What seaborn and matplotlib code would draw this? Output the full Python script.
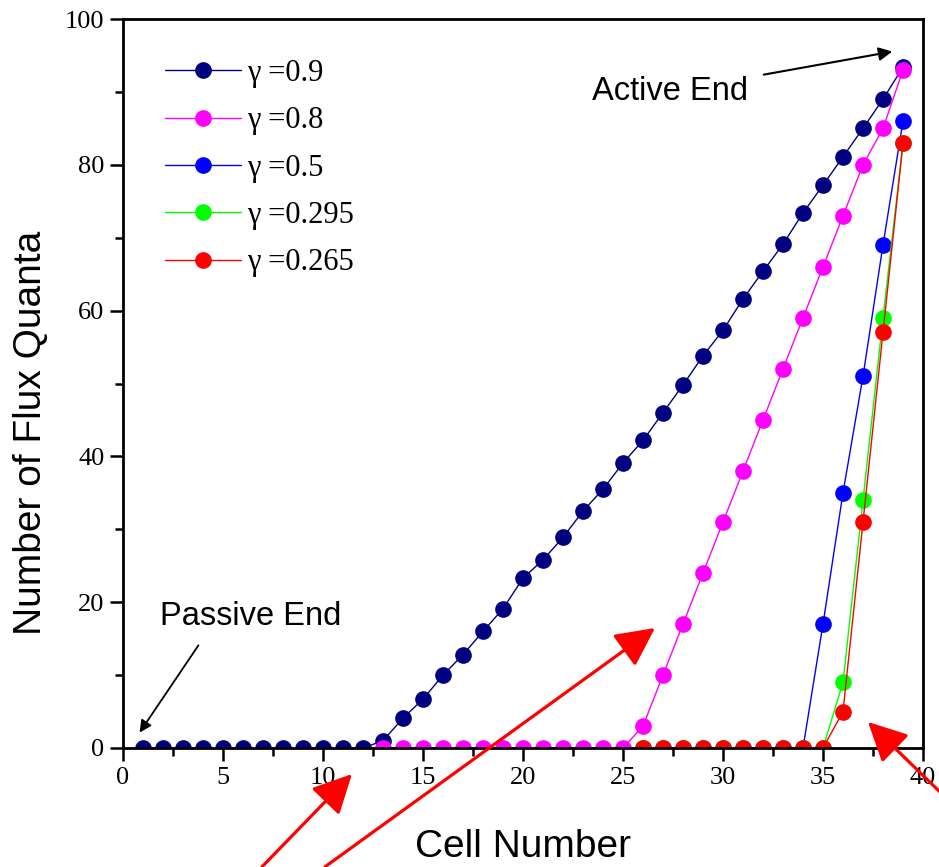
import numpy as np
import pandas as pd
import matplotlib
matplotlib.use("Agg")
import matplotlib.pyplot as plt
import seaborn as sns

# ---- data ----
cells_09 = list(range(1, 40))
flux_09 = [0]*12 + [1.0, 4.1, 6.7, 10.0, 12.8, 16.0, 19.1, 23.3, 25.8, 28.9, 32.5, 35.5,
                    39.1, 42.2, 46.0, 49.8, 53.8, 57.3, 61.6, 65.4, 69.1, 73.4, 77.2, 81.1,
                    85.0, 89.0, 93.4]
cells_08 = list(range(13, 40))
flux_08 = [0]*13 + [3, 10, 17, 24, 31, 38, 45, 52, 59, 66, 73, 80, 85, 93]
cells_05 = list(range(26, 40))
flux_05 = [0]*9 + [17, 35, 51, 69, 86]
cells_0295 = list(range(26, 40))
flux_0295 = [0]*10 + [9, 34, 59, 83]
cells_0265 = list(range(26, 40))
flux_0265 = [0]*10 + [5, 31, 57, 83]

labels = ["γ =0.9", "γ =0.8", "γ =0.5", "γ =0.295", "γ =0.265"]
colors = ["#000080", "#ff00ff", "#0000ff", "#00ff00", "#ff0000"]

series = [(cells_09, flux_09), (cells_08, flux_08), (cells_05, flux_05),
          (cells_0295, flux_0295), (cells_0265, flux_0265)]
frames = []
for lab, (c, f) in zip(labels, series):
    frames.append(pd.DataFrame({"cell": c, "flux": f, "gamma": lab}))
df = pd.concat(frames, ignore_index=True)

sns.set_theme(style="ticks")
plt.rcParams["font.family"] = ["Liberation Serif", "DejaVu Serif"]
plt.rcParams["text.color"] = "black"
plt.rcParams["axes.labelcolor"] = "black"
plt.rcParams["xtick.color"] = "black"
plt.rcParams["ytick.color"] = "black"

fig = plt.figure(figsize=(9.39, 8.67), dpi=100)
ax = fig.add_axes([123/939, (867-748)/867, 800/939, (748-19)/867])

for lab, col in zip(labels, colors):
    sub = df[df["gamma"] == lab]
    sns.lineplot(data=sub, x="cell", y="flux", ax=ax, color=col, linewidth=1.0,
                 marker="o", markersize=12, markeredgewidth=0, label=lab,
                 estimator=None, sort=False)

ax.set_xlim(0, 40)
ax.set_ylim(0, 100)
ax.set_xticks(np.arange(0, 41, 5))
ax.set_xticks(np.arange(2.5, 40, 5), minor=True)
ax.set_yticks(np.arange(0, 101, 20))
ax.set_yticks(np.arange(10, 100, 20), minor=True)
ax.tick_params(axis="both", which="major", direction="out", length=9.5, width=1.8,
               labelsize=19, colors="black", pad=4)
ax.tick_params(axis="both", which="minor", direction="out", length=6, width=1.8)
ax.tick_params(top=False, right=False, which="both")
for sp in ax.spines.values():
    sp.set_linewidth(2.0)
    sp.set_color("black")
    sp.set_visible(True)

ax.set_xlabel("Cell Number", family="Liberation Sans", fontsize=28, labelpad=29)
ax.set_ylabel("Number of Flux Quanta", family="Liberation Sans", fontsize=28)
ax.yaxis.set_label_coords(-0.092, 0.432)

leg = ax.legend(loc="upper left", bbox_to_anchor=(0.0525, 0.945), frameon=False,
                fontsize=22, handlelength=2.5, handletextpad=0.2, labelspacing=0.6,
                borderaxespad=0, borderpad=0)

# annotations
ax.annotate("", xy=(38.6, 95.6), xytext=(31.9, 92.3),
            arrowprops=dict(arrowstyle="-|>", color="black", lw=1.5, mutation_scale=20))
ax.text(27.35, 90.1, "Active End", family="Liberation Sans", fontsize=23.5,
        ha="center", va="center")
ax.annotate("", xy=(0.75, 1.8), xytext=(3.85, 14.4),
            arrowprops=dict(arrowstyle="-|>", color="black", lw=1.3, mutation_scale=18))
ax.text(6.4, 18.1, "Passive End", family="Liberation Sans", fontsize=23.5,
        ha="center", va="center")

red_arrows = [((11.45, -3.57), (6.95, -16.3)),
              ((26.6, 16.46), (10.1, -16.3)),
              ((37.25, 3.57), (41.1, -6.7))]
for head, tail in red_arrows:
    ax.annotate("", xy=head, xytext=tail, annotation_clip=False,
                arrowprops=dict(arrowstyle="-|>,head_length=1.2,head_width=0.6",
                                color="red", lw=2.3, mutation_scale=20,
                                shrinkA=0, shrinkB=0))

fig.savefig("out.png", dpi=100)
